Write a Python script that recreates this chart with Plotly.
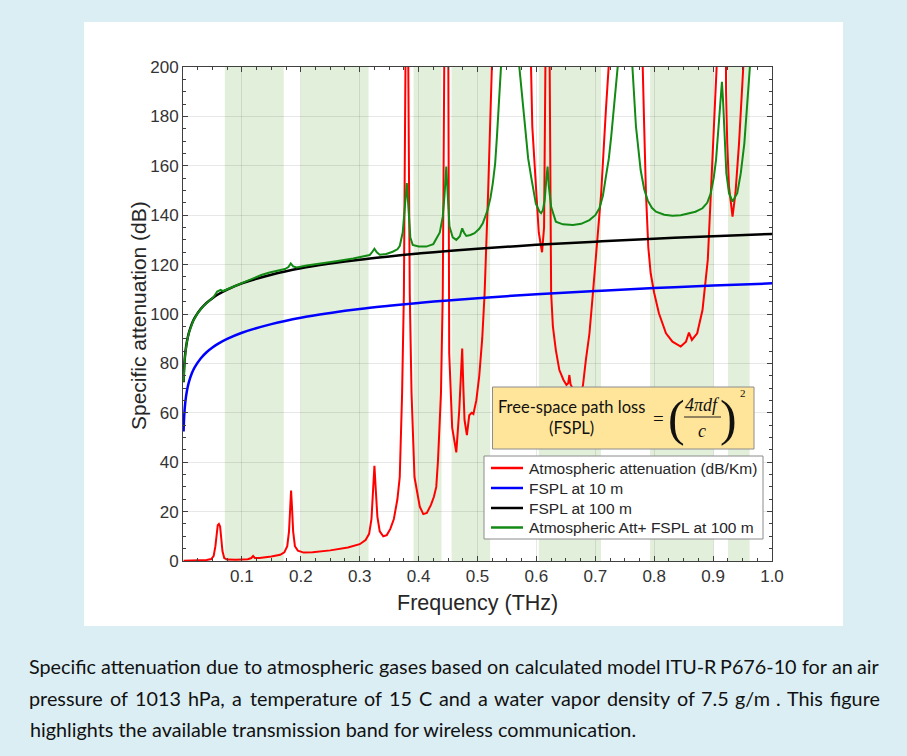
import plotly.graph_objects as go

# ---------------- data ----------------
atm_freq = [0.001, 0.02, 0.04, 0.048, 0.052, 0.055, 0.057, 0.059, 0.061, 0.063, 0.065, 0.067, 0.070,
            0.075, 0.09, 0.11, 0.116, 0.119, 0.122, 0.13, 0.15, 0.165, 0.172, 0.177, 0.180, 0.182,
            0.1835, 0.185, 0.187, 0.190, 0.195, 0.205, 0.22, 0.25, 0.28, 0.30, 0.31, 0.316, 0.320,
            0.323, 0.325, 0.327, 0.330, 0.334, 0.340, 0.346, 0.352, 0.358, 0.364, 0.368, 0.372, 0.375,
            0.3775, 0.380, 0.3825, 0.385, 0.388, 0.393, 0.402, 0.408, 0.414, 0.421, 0.426, 0.430,
            0.433, 0.438, 0.441, 0.4425, 0.4475, 0.4505, 0.452, 0.457, 0.464, 0.469, 0.4725, 0.474,
            0.476, 0.478, 0.482, 0.486, 0.490, 0.493, 0.498, 0.503, 0.508, 0.512, 0.518, 0.522, 0.525,
            0.54, 0.557, 0.575, 0.590, 0.593, 0.5995, 0.604, 0.6096, 0.613, 0.616, 0.619, 0.622, 0.624,
            0.625, 0.628, 0.633, 0.639, 0.646, 0.651, 0.654, 0.656, 0.658, 0.660, 0.668, 0.675, 0.679,
            0.684, 0.690, 0.695, 0.701, 0.710, 0.718, 0.724, 0.752, 0.780, 0.783, 0.786, 0.790, 0.794,
            0.800, 0.808, 0.820, 0.831, 0.845, 0.854, 0.859, 0.864, 0.873, 0.882, 0.891, 0.896, 0.902,
            0.907, 0.916, 0.922, 0.924, 0.927, 0.933, 0.938, 0.944, 0.951, 0.955, 0.97, 0.99, 1.0]
atm_att = [0.1, 0.2, 0.4, 0.8, 2, 6, 11, 14.5, 15, 14, 9, 4, 1.2,
           0.6, 0.5, 0.7, 1.2, 2, 1.2, 1.2, 1.8, 2.5, 3.5, 6, 12, 22,
           28.5, 22, 12, 6, 4.2, 3.4, 3.5, 4.3, 5.5, 6.8, 8.5, 11, 17,
           30, 38.5, 30, 18, 12, 10, 10.5, 13, 17, 25, 34, 68, 108,
           200, 280, 200, 108, 68, 34, 22, 19, 19.5, 22.7, 26, 30,
           41, 68, 108, 200, 345, 200, 84, 54, 44, 61, 80, 86,
           70, 57, 51, 59, 60, 59.5, 65, 75, 90, 108, 149, 180, 205,
           730, 1500, 700, 210, 176, 149, 133, 125, 135, 220, 330, 220, 135,
           108.5, 95, 85.4, 77.3, 73.3, 71.3, 72, 75.3, 71.5, 70.6, 66, 68, 71,
           81.4, 92, 105.7, 122, 149, 182.6, 205, 1500, 205, 176, 149, 127, 116.5,
           108.5, 100.3, 92.2, 88.8, 86.8, 88.8, 92.5, 89.5, 92.2, 101.6, 122, 146, 176,
           205, 620, 190, 169, 151.6, 139.4, 149, 169, 199, 230, 600, 600, 500]

fspl_freq = [0.001, 0.002, 0.004, 0.007, 0.01, 0.015, 0.02, 0.03, 0.04, 0.05, 0.06, 0.075, 0.1, 0.15,
             0.2, 0.25, 0.3, 0.35, 0.4, 0.45, 0.5, 0.6, 0.7, 0.8, 0.9, 1.0]
fspl_10m = [52.4, 58.5, 64.5, 69.3, 72.4, 76.0, 78.5, 82.0, 84.5, 86.4, 88.0, 89.9, 92.4, 95.9,
            98.5, 100.4, 102.0, 103.3, 104.5, 105.5, 106.4, 108.0, 109.3, 110.5, 111.5, 112.4]
fspl_100m = [72.4, 78.5, 84.5, 89.3, 92.4, 96.0, 98.5, 102.0, 104.5, 106.4, 108.0, 109.9, 112.4, 115.9,
             118.5, 120.4, 122.0, 123.3, 124.5, 125.5, 126.4, 128.0, 129.3, 130.5, 131.5, 132.4]

sum_freq = [0.001, 0.003, 0.006, 0.01, 0.0175, 0.025, 0.0345, 0.045, 0.052, 0.058, 0.061, 0.064,
            0.068, 0.08, 0.091, 0.105, 0.119, 0.133, 0.147, 0.16, 0.173, 0.179, 0.183, 0.187, 0.193,
            0.21, 0.232, 0.26, 0.289, 0.317, 0.321, 0.325, 0.329, 0.334, 0.345, 0.356, 0.364, 0.368,
            0.373, 0.377, 0.380, 0.383, 0.386, 0.39, 0.40, 0.413, 0.425, 0.436, 0.441, 0.444, 0.447,
            0.4495, 0.4525, 0.458, 0.464, 0.470, 0.474, 0.477, 0.481, 0.488, 0.495, 0.503, 0.509,
            0.517, 0.522, 0.526, 0.530, 0.533, 0.537, 0.540, 0.557, 0.571, 0.574, 0.577, 0.582, 0.586,
            0.591, 0.599, 0.605, 0.608, 0.611, 0.614, 0.617, 0.619, 0.621, 0.625, 0.633, 0.645, 0.662,
            0.676, 0.690, 0.700, 0.707, 0.713, 0.718, 0.723, 0.727, 0.735, 0.738, 0.752, 0.763, 0.769,
            0.773, 0.777, 0.783, 0.789, 0.796, 0.803, 0.817, 0.831, 0.845, 0.859, 0.87, 0.882, 0.89,
            0.896, 0.901, 0.905, 0.910, 0.9125, 0.915, 0.917, 0.919, 0.9225, 0.927, 0.933, 0.941,
            0.947, 0.953, 0.961, 0.964, 0.98, 1.0]
sum_att = [72.6, 81.9, 88.0, 92.4, 97.3, 100.4, 103.2, 105.5, 106.9, 109.1, 109.6, 109.8,
           109.3, 110.5, 111.7, 113.1, 114.6, 115.8, 116.8, 117.5, 118.2, 119, 120.5, 119.3, 118.8,
           119.6, 120.5, 121.4, 122.5, 123.9, 125, 126.4, 125, 124, 124.3, 125.2, 126.2, 127.5,
           133, 145, 153, 142, 131, 128, 127.3, 127.3, 128.3, 133, 139.4, 148, 159.7,
           148, 135.4, 131, 130, 131.5, 134.7, 133, 131.6, 132, 132.7, 134.5, 136.7,
           142, 147, 153, 161, 171.8, 189, 200, 270, 200, 193, 184, 171.8, 163,
           155.6, 144.8, 141.5, 140.8, 142, 146, 155, 159.7, 152, 143.4, 137.4, 136.3, 136,
           136.5, 138, 140, 142.8, 148, 155.6, 163, 171.8, 190.7, 200, 270, 200, 176,
           166, 158.3, 150.5, 146, 143, 141.4, 140.2, 139.8, 140, 140.8, 141.4, 142.8, 145,
           148.9, 155, 162.4, 178.6, 188, 194, 186, 176, 157, 148.9, 145.5, 148.9,
           157, 169, 192, 205, 230, 230]

# transmission windows (THz)
band_start = [0.071, 0.200, 0.3915, 0.456, 0.604, 0.793, 0.9254]
band_end = [0.171, 0.315, 0.439, 0.5215, 0.7096, 0.9006, 0.962]

x_tickvals = [0.1, 0.2, 0.3, 0.4, 0.5, 0.6, 0.7, 0.8, 0.9, 1.0]
x_ticktext = ["0.1", "0.2", "0.3", "0.4", "0.5", "0.6", "0.7", "0.8", "0.9", "1.0"]

series_names = ["Atmospheric attenuation (dB/Km)", "FSPL at 10 m", "FSPL at 100 m",
                "Atmospheric Att+ FSPL at 100 m"]
series_colors = ["#ff0000", "#0000ff", "#000000", "#138a13"]

caption_lines = [
    "Specific attenuation due to atmospheric gases based on calculated model ITU-R P676-10 for an air",
    "pressure of 1013 hPa, a temperature of 15 C and a water vapor density of 7.5 g/m . This figure",
    "highlights the available transmission band for wireless communication.",
]
caption_justified = [True, True, False]

# ---------------- layout geometry helpers ----------------
W, H = 907, 756
L, R, T, B = 183, 772, 67, 561


def px(xp):
    return (xp - L) / (R - L)


def py(yp):
    return (B - yp) / (B - T)


fig = go.Figure()
fig.add_trace(go.Scatter(x=atm_freq, y=atm_att, mode="lines", name=series_names[0],
                         line=dict(color=series_colors[0], width=2)))
fig.add_trace(go.Scatter(x=fspl_freq, y=fspl_10m, mode="lines", name=series_names[1],
                         line=dict(color=series_colors[1], width=2.5, shape="spline")))
fig.add_trace(go.Scatter(x=fspl_freq, y=fspl_100m, mode="lines", name=series_names[2],
                         line=dict(color=series_colors[2], width=2.5, shape="spline")))
fig.add_trace(go.Scatter(x=sum_freq, y=sum_att, mode="lines", name=series_names[3],
                         line=dict(color=series_colors[3], width=2)))

shapes = []
# white panel behind the chart
shapes.append(dict(type="rect", xref="paper", yref="paper", x0=px(84), x1=px(843), y0=py(626), y1=py(22),
                   fillcolor="white", line=dict(width=0), layer="below"))
for s, e in zip(band_start, band_end):
    shapes.append(dict(type="rect", xref="x", yref="y domain", x0=s, x1=e, y0=0, y1=1,
                       fillcolor="rgb(226,239,218)", line=dict(width=0), layer="below"))
# FSPL formula box
shapes.append(dict(type="rect", xref="paper", yref="paper", x0=px(492.5), x1=px(754), y0=py(449), y1=py(387),
                   fillcolor="#ffe599", line=dict(color="#8c8c8c", width=1), layer="above"))
# fraction bar
shapes.append(dict(type="line", xref="paper", yref="paper", x0=px(684), x1=px(721), y0=py(417), y1=py(417),
                   line=dict(color="#222", width=1), layer="above"))
# legend box and line samples
shapes.append(dict(type="rect", xref="paper", yref="paper", x0=px(484), x1=px(763), y0=py(539), y1=py(456),
                   fillcolor="white", line=dict(color="#8c8c8c", width=1), layer="above"))
leg_rows = [468, 488, 508, 527.5]
for yy, col in zip(leg_rows, series_colors):
    shapes.append(dict(type="line", xref="paper", yref="paper", x0=px(491), x1=px(523), y0=py(yy), y1=py(yy),
                       line=dict(color=col, width=2.5), layer="above"))
fig.update_layout(shapes=shapes)

arial = "Liberation Sans, Arial, sans-serif"
ann = []
for yy, name in zip(leg_rows, series_names):
    ann.append(dict(text=name, x=px(527), y=py(yy), xref="paper", yref="paper", showarrow=False,
                    xanchor="left", yanchor="middle", font=dict(family=arial, size=15.5, color="#262626")))

sans = "Lato, Open Sans, sans-serif"
ann.append(dict(text="Free-space path loss", x=px(571), y=py(407), xref="paper", yref="paper",
                showarrow=False, xanchor="center", yanchor="middle",
                font=dict(family=sans, size=16.5, color="#111")))
ann.append(dict(text="(FSPL)", x=px(571), y=py(428), xref="paper", yref="paper",
                showarrow=False, xanchor="center", yanchor="middle",
                font=dict(family=sans, size=16.5, color="#111")))
serif = "Liberation Serif, DejaVu Serif, serif"
ann.append(dict(text="=", x=px(658), y=py(418), xref="paper", yref="paper", showarrow=False,
                xanchor="center", yanchor="middle", font=dict(family=serif, size=19, color="#111")))
ann.append(dict(text="(", x=px(676), y=py(418), xref="paper", yref="paper", showarrow=False,
                xanchor="center", yanchor="middle", font=dict(family=serif, size=50, color="#111")))
ann.append(dict(text=")", x=px(728), y=py(418), xref="paper", yref="paper", showarrow=False,
                xanchor="center", yanchor="middle", font=dict(family=serif, size=50, color="#111")))
ann.append(dict(text="<i>4πdf</i>", x=px(702), y=py(405), xref="paper", yref="paper", showarrow=False,
                xanchor="center", yanchor="middle", font=dict(family=serif, size=18, color="#111")))
ann.append(dict(text="<i>c</i>", x=px(702), y=py(431), xref="paper", yref="paper", showarrow=False,
                xanchor="center", yanchor="middle", font=dict(family=serif, size=18, color="#111")))
ann.append(dict(text="2", x=px(743), y=py(393), xref="paper", yref="paper", showarrow=False,
                xanchor="center", yanchor="middle", font=dict(family=serif, size=11, color="#111")))

# axis titles
ann.append(dict(text="Specific attenuation (dB)", x=px(138), y=py(316), xref="paper", yref="paper",
                showarrow=False, textangle=-90, xanchor="center", yanchor="middle",
                font=dict(family=arial, size=21, color="#262626")))
ann.append(dict(text="Frequency (THz)", x=px(477), y=py(603), xref="paper", yref="paper",
                showarrow=False, xanchor="center", yanchor="middle",
                font=dict(family=arial, size=21.5, color="#262626")))

# caption: justified lines are laid out word by word (estimated Lato advance widths,
# calibrated on the unjustified last line)
cap_size = 19.8
cap_left, cap_right = 28, 880
wid = {c: 0.55 for c in "bdhnopqu"}
wid.update({"a": 0.50, "c": 0.45, "e": 0.51, "f": 0.32, "g": 0.50, "i": 0.24, "j": 0.24, "k": 0.49,
            "l": 0.24, "m": 0.82, "r": 0.36, "s": 0.42, "t": 0.34, "v": 0.49, "w": 0.74, "x": 0.48,
            "y": 0.49, "z": 0.45, ".": 0.20, ",": 0.20, "-": 0.32, "/": 0.35, "I": 0.28, "T": 0.57,
            "U": 0.68, "R": 0.60, "P": 0.60, "C": 0.66, " ": 0.19})


def raw_width(s):
    return sum(wid.get(ch, 0.58) for ch in s)


calib = 607.0 / raw_width(caption_lines[2])   # px per estimated unit


def est_width(word):
    return raw_width(word) * calib


for i, (line, just) in enumerate(zip(caption_lines, caption_justified)):
    ypos = py(666 + i * 31.5)
    if not just:
        ann.append(dict(text=line, x=px(cap_left), y=ypos, xref="paper", yref="paper",
                        showarrow=False, xanchor="left", yanchor="middle",
                        font=dict(family=sans, size=cap_size, color="#111")))
        continue
    words = line.split(" ")
    widths = [est_width(w_) for w_ in words]
    gap = (cap_right - cap_left - sum(widths)) / (len(words) - 1)
    xcur = cap_left
    for j, (w_, wd) in enumerate(zip(words, widths)):
        # anchor each word at its centre so width errors do not pile up on one side
        ann.append(dict(text=w_, x=px(xcur + wd / 2), y=ypos, xref="paper", yref="paper",
                        showarrow=False, xanchor="center", yanchor="middle",
                        font=dict(family=sans, size=cap_size, color="#111")))
        xcur += wd + gap
fig.update_layout(annotations=ann)

axis_common = dict(showline=True, linecolor="#404040", linewidth=1, mirror="allticks",
                   ticks="inside", ticklen=5, tickcolor="#404040", showgrid=True,
                   gridcolor="rgba(0,0,0,0.09)", gridwidth=1, zeroline=False,
                   tickfont=dict(family=arial, size=17, color="#333"))
fig.update_xaxes(range=[0, 1.0], tickvals=x_tickvals, ticktext=x_ticktext,
                 minor=dict(dtick=0.025, tick0=0, ticks="inside", ticklen=3, tickcolor="#404040", showgrid=False),
                 **axis_common)
fig.update_yaxes(range=[0, 200], dtick=20, tick0=0,
                 minor=dict(dtick=5, tick0=0, ticks="inside", ticklen=3, tickcolor="#404040", showgrid=False),
                 **axis_common)

fig.update_layout(
    width=W, height=H,
    margin=dict(l=L, r=W - R, t=T, b=H - B, pad=0),
    paper_bgcolor="#dbeef4", plot_bgcolor="white",
    showlegend=False,
)

fig.write_html("out.html", config={"displayModeBar": False},
               post_script="document.body.style.margin='0';document.body.style.overflow='hidden';")
